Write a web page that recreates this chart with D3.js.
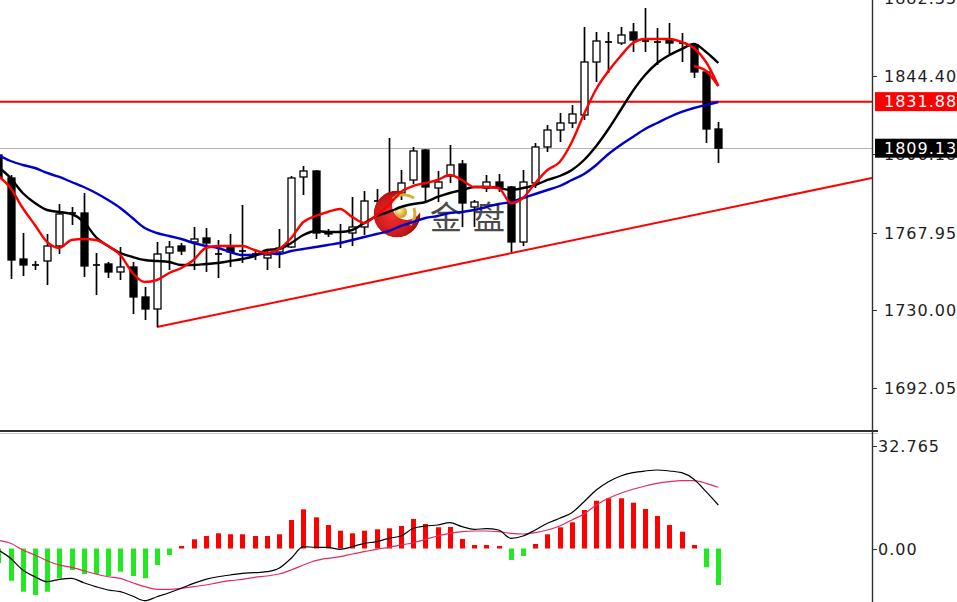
<!DOCTYPE html>
<html><head><meta charset="utf-8">
<script src="https://cdn.jsdelivr.net/npm/d3@7"></script>
<style>body{margin:0;background:#fff;overflow:hidden}</style>
</head><body>
<svg id="c" width="957" height="602"></svg>
<script>
// ---- data (bar index 0..59) ----
const opens = [1805.81,1794.58,1755.01,1752.08,1754.03,1761.36,1777.48,1777.48,1752.08,1752.57,1748.66,1751.10,1736.45,1730.58,1757.94,1761.36,1763.31,1765.27,1757.45,1760.87,1758.92,1757.45,1755.50,1758.43,1760.87,1795.07,1798.00,1768.20,1768.20,1767.71,1770.64,1783.34,1785.30,1787.25,1793.60,1808.25,1789.69,1795.55,1801.42,1780.41,1789.69,1792.62,1790.18,1763.31,1792.13,1809.72,1818.02,1821.44,1825.35,1851.24,1861.01,1860.52,1865.90,1861.50,1861.01,1861.99,1860.52,1859.55,1846.36,1818.51];
const highs = [1808.25,1796.04,1767.71,1754.03,1767.22,1781.88,1780.41,1787.25,1757.94,1753.54,1760.87,1753.54,1741.33,1763.31,1763.80,1762.82,1770.64,1770.15,1764.29,1767.22,1781.39,1759.89,1759.40,1769.66,1795.55,1800.44,1798.48,1769.66,1772.11,1785.30,1788.23,1789.20,1814.12,1798.48,1809.72,1808.74,1798.00,1810.70,1803.37,1783.83,1796.04,1796.53,1790.67,1798.48,1811.67,1820.47,1826.33,1830.24,1868.34,1865.90,1865.90,1868.34,1870.29,1877.62,1867.85,1870.29,1865.41,1860.52,1847.33,1821.93];
const lows = [1791.16,1745.24,1746.70,1749.63,1742.31,1757.45,1771.62,1746.22,1737.42,1745.73,1744.75,1728.14,1725.21,1721.79,1749.63,1756.96,1749.63,1748.66,1745.73,1751.10,1753.05,1754.52,1749.63,1750.61,1760.38,1786.27,1764.78,1765.76,1760.38,1761.36,1766.73,1774.06,1777.97,1783.83,1791.65,1782.85,1782.85,1792.13,1770.64,1770.64,1787.74,1787.74,1758.43,1761.36,1789.69,1807.28,1812.16,1819.00,1822.91,1841.47,1845.87,1859.55,1856.13,1856.13,1849.78,1854.66,1851.24,1843.43,1811.67,1801.90];
const closes = [1794.58,1754.52,1752.08,1751.83,1761.36,1776.99,1777.23,1751.59,1751.83,1748.66,1751.10,1736.45,1730.58,1757.45,1760.87,1758.92,1764.78,1762.82,1757.21,1758.43,1758.67,1757.45,1756.96,1760.38,1794.58,1798.00,1767.71,1767.22,1767.95,1770.64,1783.34,1782.85,1783.83,1792.13,1807.77,1790.18,1792.62,1800.93,1782.36,1782.85,1792.62,1790.18,1763.31,1792.62,1809.72,1818.02,1821.44,1825.84,1851.24,1861.50,1860.77,1864.43,1861.99,1861.26,1860.77,1860.52,1860.28,1846.36,1818.51,1809.13];

const maRed = [1795.55,1789.69,1779.92,1771.62,1763.31,1760.38,1764.29,1764.78,1764.29,1761.36,1756.96,1748.17,1743.77,1744.75,1748.17,1750.61,1754.52,1760.38,1761.36,1761.36,1761.36,1759.40,1757.94,1759.89,1765.27,1773.08,1776.01,1777.97,1779.43,1775.53,1772.59,1776.50,1781.39,1787.74,1790.67,1792.13,1793.60,1796.04,1793.60,1790.18,1790.18,1789.69,1782.36,1784.81,1792.13,1798.48,1802.39,1812.16,1825.84,1838.05,1846.85,1854.17,1860.52,1862.48,1862.48,1862.48,1861.01,1858.08,1851.24,1839.52];
const maRed2Start = 57;
const maRed2 = [1849.29,1846.85,1839.52];
const maBlack = [1799.95,1794.58,1787.25,1782.36,1778.94,1777.97,1776.99,1773.08,1765.76,1761.36,1757.94,1755.99,1754.52,1754.03,1753.54,1752.08,1752.08,1752.57,1753.05,1754.03,1755.01,1756.47,1759.40,1759.89,1762.82,1766.73,1768.69,1768.20,1768.20,1769.17,1772.59,1776.01,1777.97,1780.41,1781.88,1782.85,1785.30,1787.25,1788.71,1790.18,1790.18,1789.69,1788.71,1789.69,1791.16,1793.60,1795.55,1798.48,1803.37,1810.21,1818.51,1827.79,1837.08,1844.89,1850.75,1854.66,1857.59,1860.04,1856.13,1850.75];
const maBlue = [1805.81,1802.88,1800.93,1799.46,1797.02,1795.07,1792.62,1790.18,1787.25,1783.83,1779.92,1775.04,1770.15,1767.71,1766.24,1764.78,1762.82,1761.36,1760.38,1758.43,1756.96,1756.96,1757.94,1757.45,1758.92,1759.89,1760.87,1761.85,1762.82,1764.29,1765.76,1767.22,1768.69,1771.13,1773.08,1775.04,1776.01,1777.48,1777.97,1778.94,1780.41,1781.88,1782.85,1784.81,1786.76,1788.71,1790.67,1793.60,1796.53,1800.93,1806.30,1810.70,1814.61,1818.51,1821.44,1824.38,1826.82,1828.77,1830.24,1831.70];

const macdHist = [-4.64,-10.29,-13.81,-14.87,-13.81,-9.53,-6.87,-8.15,-8.15,-8.79,-7.42,-8.79,-9.53,-5.28,-2.08,0.80,2.94,4.00,4.86,4.54,4.54,4.00,4.00,4.54,9.11,12.53,9.97,7.51,5.69,4.86,5.69,6.14,6.46,7.19,9.43,7.83,6.78,6.87,3.04,1.12,1.12,0.80,-3.68,-2.40,1.44,4.54,6.78,8.38,12.31,15.28,16.05,16.05,14.64,12.63,10.39,7.51,5.37,1.12,-6.01,-11.67];
const macdMain = [-0.48,-3.13,-6.87,-9.02,-10.61,-9.85,-9.53,-10.93,-12.21,-13.27,-13.81,-15.19,-16.69,-15.41,-14.13,-12.72,-11.13,-9.85,-9.02,-8.47,-7.93,-7.74,-7.42,-6.33,-3.13,0.58,0.38,0.38,-0.26,0.58,1.66,2.17,3.26,4.00,6.46,7.19,7.51,8.25,6.97,6.14,6.33,5.91,3.26,4.00,5.91,8.06,9.65,11.45,14.96,18.70,21.36,23.18,24.23,24.78,25.10,24.78,24.23,22.12,18.16,13.91];
const macdSignal = [2.60,1.66,-0.48,-2.08,-3.90,-5.28,-6.01,-7.10,-8.15,-9.02,-9.53,-10.93,-12.21,-13.04,-13.04,-12.72,-12.21,-11.67,-10.93,-10.29,-9.85,-9.21,-8.79,-8.15,-6.87,-5.28,-3.90,-3.13,-2.62,-1.76,-1.02,-0.26,0.38,1.12,1.85,2.94,4.00,4.86,5.37,5.59,5.59,5.37,4.86,4.64,5.05,5.91,7.19,9.11,11.03,13.91,16.05,17.65,18.93,19.98,20.84,21.36,21.68,21.68,20.84,19.57];

const priceTicks = [1882.35, 1844.40, 1806.18, 1767.95, 1730.00, 1692.05];
const macdTicks = [32.765, 0.00];
const resistanceLevel = 1831.88;
const lastPrice = 1809.13;
const trendIdx = [13, 71.6];
const trendPrice = [1721.8, 1794.6];
const watermark = ["金", "盘"];

// ---- layout ----
const svg = d3.select("#c");
const plotR = 872;
const x = d3.scaleLinear().domain([0, 59]).range([-1.7, 718.3]);
const y = d3.scaleLinear().domain([1844.40, 1691.5]).range([76, 389]);
const ym = d3.scaleLinear().domain([0, 32.765]).range([548.5, 446]);
const idx = d3.range(opens.length);

const defs = svg.append("defs");
defs.append("clipPath").attr("id","mainClip").append("rect").attr("x",0).attr("y",0).attr("width",plotR).attr("height",430);
defs.append("clipPath").attr("id","subClip").append("rect").attr("x",0).attr("y",434).attr("width",plotR).attr("height",168);

const main = svg.append("g").attr("clip-path","url(#mainClip)");
const sub = svg.append("g").attr("clip-path","url(#subClip)");

// horizontal levels
main.append("line").attr("x1",0).attr("x2",plotR).attr("y1",Math.round(y(lastPrice))+0.5).attr("y2",Math.round(y(lastPrice))+0.5)
  .attr("stroke","#b4b4b4").attr("stroke-width",1);
main.append("line").attr("x1",0).attr("x2",plotR).attr("y1",y(resistanceLevel)).attr("y2",y(resistanceLevel))
  .attr("stroke","#ff0000").attr("stroke-width",2);
// trend line
main.append("line").attr("x1",x(trendIdx[0])).attr("y1",y(trendPrice[0])).attr("x2",x(trendIdx[1])).attr("y2",y(trendPrice[1]))
  .attr("stroke","#ff0000").attr("stroke-width",2);

// candles
const bw = 7;
const cg = main.append("g");
idx.forEach(i => {
  const cx = Math.round(x(i)) + 0.5;
  cg.append("line").attr("x1",cx).attr("x2",cx).attr("y1",y(highs[i])).attr("y2",y(lows[i]))
    .attr("stroke","#000").attr("stroke-width",1.7);
  const o = opens[i], c = closes[i];
  if (Math.abs(o - c) < 0.6) {
    cg.append("line").attr("x1",cx-bw/2).attr("x2",cx+bw/2).attr("y1",y(o)).attr("y2",y(o))
      .attr("stroke","#000").attr("stroke-width",1.7);
  } else {
    const top = y(Math.max(o,c)), bot = y(Math.min(o,c));
    cg.append("rect").attr("x",cx-bw/2).attr("y",top).attr("width",bw).attr("height",Math.max(1,bot-top))
      .attr("fill", c > o ? "#fff" : "#000").attr("stroke","#000").attr("stroke-width",1.3);
  }
});

// watermark logo
const lg = main.append("g");
const mask = defs.append("mask").attr("id","cres");
mask.append("rect").attr("x",360).attr("y",180).attr("width",80).attr("height",70).attr("fill","#000");
mask.append("circle").attr("cx",397).attr("cy",214).attr("r",23.5).attr("fill","#fff");
mask.append("circle").attr("cx",407).attr("cy",205).attr("r",15).attr("fill","#000");
const rg = defs.append("radialGradient").attr("id","redg").attr("cx","40%").attr("cy","55%").attr("r","65%");
rg.append("stop").attr("offset","0%").attr("stop-color","#f03030");
rg.append("stop").attr("offset","70%").attr("stop-color","#c41414");
rg.append("stop").attr("offset","100%").attr("stop-color","#7a0a0a");
lg.append("circle").attr("cx",397).attr("cy",214).attr("r",23.5).attr("fill","url(#redg)").attr("mask","url(#cres)");
const gg = defs.append("radialGradient").attr("id","goldg").attr("cx","35%").attr("cy","35%").attr("r","70%");
gg.append("stop").attr("offset","0%").attr("stop-color","#fff4a8");
gg.append("stop").attr("offset","100%").attr("stop-color","#c9960c");
lg.append("circle").attr("cx",401).attr("cy",212).attr("r",6).attr("fill","url(#goldg)");
lg.append("path").attr("d","M393,199 Q403,191 414,198").attr("fill","none").attr("stroke","#d8b030").attr("stroke-width",3);
lg.append("path").attr("d","M414,208 Q417,218 410,225").attr("fill","none").attr("stroke","#d8b030").attr("stroke-width",3);
lg.selectAll("text.wm").data(watermark).join("text").attr("class","wm")
  .attr("x",(d,k)=>430 + k*43).attr("y",229)
  .attr("font-family","'Noto Sans CJK SC'").attr("font-size",32).attr("fill","#4a4a4a")
  .text(d=>d);

// moving averages
const line = (arr, sc, off=0) => d3.line().x((d,k)=>x(k+off)).y(d=>sc(d)).curve(d3.curveMonotoneX)(arr);
main.append("path").attr("d",line(maBlue,y)).attr("fill","none").attr("stroke","#0000c8").attr("stroke-width",2.4);
main.append("path").attr("d",line(maBlack,y)).attr("fill","none").attr("stroke","#000").attr("stroke-width",2.4);
main.append("path").attr("d",line(maRed,y)).attr("fill","none").attr("stroke","#ff0000").attr("stroke-width",2.4);
main.append("path").attr("d",line(maRed2,y,maRed2Start)).attr("fill","none").attr("stroke","#ff0000").attr("stroke-width",2.4);

// MACD
sub.selectAll("rect.h").data(macdHist).join("rect").attr("class","h")
  .attr("x",(d,k)=>Math.round(x(k))-2).attr("width",5)
  .attr("y",d=> d>=0 ? ym(d) : ym(0)).attr("height",d=>Math.max(2,Math.abs(ym(d)-ym(0))))
  .attr("fill",d=> d>=0 ? "#ff0000" : "#22e822");
sub.append("path").attr("d",line(macdSignal,ym)).attr("fill","none").attr("stroke","#dc2e5e").attr("stroke-width",1.2);
sub.append("path").attr("d",line(macdMain,ym)).attr("fill","none").attr("stroke","#000").attr("stroke-width",1.2);

// separators & axis
svg.append("line").attr("x1",0).attr("x2",878).attr("y1",431).attr("y2",431).attr("stroke","#303030").attr("stroke-width",2);
svg.append("line").attr("x1",0).attr("x2",878).attr("y1",433.5).attr("y2",433.5).attr("stroke","#c8c8c8").attr("stroke-width",1);
svg.append("line").attr("x1",plotR+0.5).attr("x2",plotR+0.5).attr("y1",0).attr("y2",602).attr("stroke","#303030").attr("stroke-width",1.4);

const lab = (g, sc, ticks, fmt, tx) => {
  ticks.forEach(t => {
    const yy = Math.round(sc(t)) + 0.5;
    g.append("line").attr("x1",plotR).attr("x2",plotR+5).attr("y1",yy).attr("y2",yy).attr("stroke","#303030");
    g.append("text").attr("x",tx).attr("y",yy).attr("dy","0.36em")
      .attr("font-family","'DejaVu Sans', Verdana, sans-serif").attr("font-size",16).attr("letter-spacing",1)
      .attr("fill","#1e1e1e").text(fmt(t));
  });
};
const ax = svg.append("g");
lab(ax, y, priceTicks, d3.format(".2f"), 884);
lab(ax, ym, macdTicks, t => t === 0 ? "0.00" : "32.765", 878);

// price tags
[[resistanceLevel,"#ff0000"],[lastPrice,"#000000"]].forEach(([v,col]) => {
  const yy = y(v);
  ax.append("rect").attr("x",875).attr("y",yy-9.5).attr("width",82).attr("height",19).attr("fill",col);
  ax.append("text").attr("x",884).attr("y",yy).attr("dy","0.36em")
    .attr("font-family","'DejaVu Sans', Verdana, sans-serif").attr("font-size",16).attr("letter-spacing",1)
    .attr("fill","#fff").text(d3.format(".2f")(v));
});
</script>
</body></html>
